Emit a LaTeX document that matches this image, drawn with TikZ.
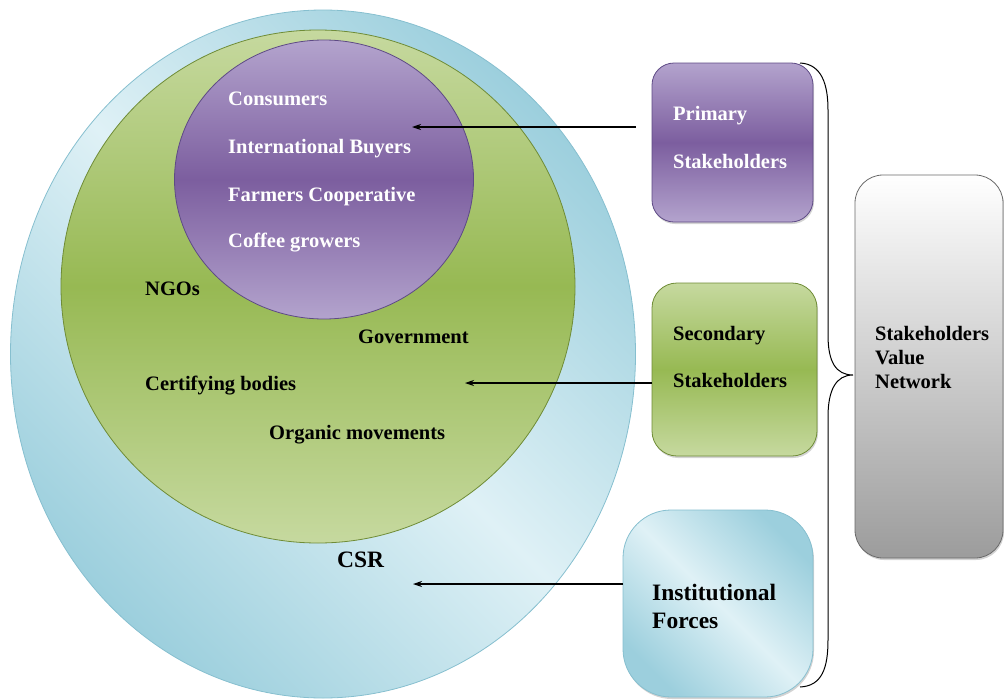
\documentclass[tikz,border=0pt]{standalone}
\usepackage{fontspec}
\setmainfont{Liberation Serif}
\usetikzlibrary{shapes.geometric,arrows.meta,shadows}
\definecolor{purL}{HTML}{B3A3CD}
\definecolor{purD}{HTML}{7C5E9F}
\definecolor{purE}{HTML}{5E4A85}
\definecolor{grnL}{HTML}{C6D99F}
\definecolor{grnD}{HTML}{97B953}
\definecolor{grnE}{HTML}{6F8C36}
\definecolor{bluL}{HTML}{DFF1F6}
\definecolor{bluD}{HTML}{9CCFDD}
\definecolor{bluE}{HTML}{86BFCF}
\definecolor{gryD}{HTML}{9C9C9C}
\definecolor{gryE}{HTML}{6A6A6A}
\begin{document}
\begin{tikzpicture}[x=1pt,y=-1pt,
  lbl/.style={anchor=base west,inner sep=0pt,font=\bfseries\fontsize{20.5}{24}\selectfont},
  wlbl/.style={lbl,text=white},
  biglbl/.style={anchor=base west,inner sep=0pt,font=\bfseries\fontsize{23.5}{28}\selectfont},
  purshade/.style={top color=purL,bottom color=purL,middle color=purD},
  grnshade/.style={top color=grnL,bottom color=grnL,middle color=grnD},
  blushade/.style={left color=bluD,right color=bluD,middle color=bluL,shading angle=-45},
  ell/.style={ellipse,inner sep=0pt,line width=0.8pt},
  boxstyle/.style={rectangle,inner sep=0pt,line width=0.8pt,
    drop shadow={opacity=0.35,shadow xshift=1pt,shadow yshift=-2pt}},
  arr/.style={-{Stealth[length=9pt,width=6pt]},line width=1.1pt,black},
  brace/.style={line width=1pt,black}
]
\useasboundingbox (0,0) rectangle (1004,699);

% circles
\node[ell,blushade,draw=bluE,minimum width=625pt,minimum height=688pt] (csr) at (323,354) {};
\node[ell,grnshade,draw=grnE,minimum width=514pt,minimum height=513pt] (sec circ) at (318,286.5) {};
\node[ell,purshade,draw=purE,minimum width=299pt,minimum height=279pt] (prim circ) at (324,179.5) {};

% texts in circles
\node[wlbl] (t1) at (228,105) {Consumers};
\node[wlbl] (t2) at (228,153) {International Buyers};
\node[wlbl] (t3) at (228,201) {Farmers Cooperative};
\node[wlbl] (t4) at (228,247) {Coffee growers};
\node[lbl] (t5) at (145,295) {NGOs};
\node[lbl] (t6) at (358,343) {Government};
\node[lbl] (t7) at (145,390) {Certifying bodies};
\node[lbl] (t8) at (269,439) {Organic movements};
\node[biglbl] (t9) at (337,567) {CSR};

% boxes
\node[boxstyle,purshade,draw=purE,rounded corners=22pt,minimum width=161pt,minimum height=159pt] (prim) at (732.5,142.5) {};
\node[boxstyle,grnshade,draw=grnE,rounded corners=25pt,minimum width=165pt,minimum height=173pt] (sec) at (734.5,369.5) {};
\node[boxstyle,blushade,draw=bluE,rounded corners=48pt,minimum width=190pt,minimum height=187pt] (inst) at (718,603.5) {};
\node[boxstyle,top color=white,bottom color=gryD,draw=gryE,rounded corners=28pt,minimum width=148pt,minimum height=383pt] (svn) at (929,366.5) {};

% box texts
\node[wlbl] (p1) at (673,120) {Primary};
\node[wlbl] (p2) at (673,168) {Stakeholders};
\node[lbl] (s1) at (673,340) {Secondary};
\node[lbl] (s2) at (673,387) {Stakeholders};
\node[biglbl] (i1) at (652,600) {Institutional};
\node[biglbl] (i2) at (652,628) {Forces};
\node[lbl] (v1) at (875,340) {Stakeholders};
\node[lbl] (v2) at (875,364) {Value};
\node[lbl] (v3) at (875,388) {Network};

% arrows
\coordinate (a1s) at (636,127);
\coordinate (a1e) at (412,127);
\coordinate (a2s) at (652,383);
\coordinate (a2e) at (465,383);
\coordinate (a3s) at (623,584);
\coordinate (a3e) at (413,584);
\draw[arr] (a1s) -- (a1e);
\draw[arr] (a2s) -- (a2e);
\draw[arr] (a3s) -- (a3e);

% brace
\coordinate (btop) at (800,63);
\coordinate (btip) at (853,375);
\coordinate (bbot) at (800,687);
\draw[brace] (btop) .. controls (822,64) and (828,85) .. (828,110)
  -- (828,335) .. controls (828,362) and (836,375) .. (btip)
  .. controls (836,375) and (828,390) .. (828,417)
  -- (828,640) .. controls (828,668) and (822,686) .. (bbot);
\end{tikzpicture}
\end{document}
